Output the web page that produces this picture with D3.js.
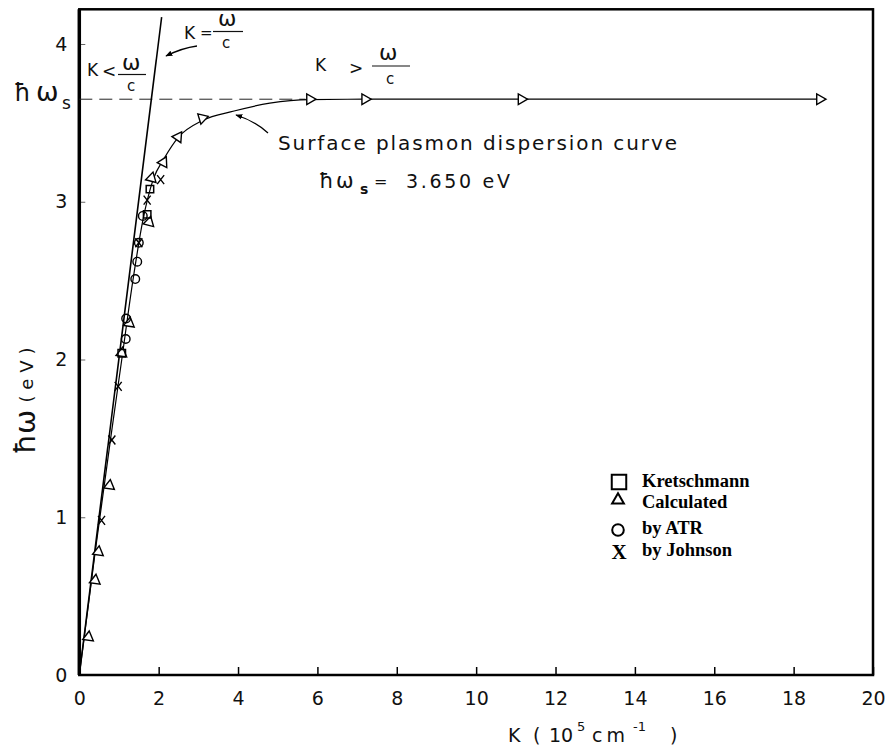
<!DOCTYPE html>
<html>
<head>
<meta charset="utf-8">
<script src="https://cdn.jsdelivr.net/npm/d3@7"></script>
<style>
  html, body { margin: 0; padding: 0; background: #fff; }
  svg { display: block; }
</style>
</head>
<body>
<div id="chart"></div>
<script>
// valeurs (K en 10^5 cm^-1, energie en eV)
const kTicks = [0, 2, 4, 6, 8, 10, 12, 14, 16, 18, 20];
const eTicks = [0, 1, 2, 3, 4];
const hws = 3.65;

// droite de lumiere K = w/c
const lightK = [0, 2.075];
const lightE = [0, 4.17];

// courbe de dispersion du plasmon de surface
const curveK = [0, 0.4, 0.79, 1.07, 1.35, 1.6, 1.86, 2.15, 2.5, 3.1, 3.9, 4.8, 5.8, 7.2, 11.14, 18.66];
const curveE = [0, 0.78, 1.5, 2.0, 2.5, 2.88, 3.14, 3.28, 3.41, 3.515, 3.575, 3.625, 3.648, 3.65, 3.65, 3.65];

// series de points
const calcK = [0.23, 0.40, 0.48, 0.76, 1.07, 1.26, 1.76, 1.82, 2.12, 2.49, 3.10, 5.81, 7.20, 11.14, 18.66];
const calcE = [0.24, 0.60, 0.78, 1.20, 2.04, 2.23, 2.87, 3.15, 3.25, 3.41, 3.53, 3.65, 3.65, 3.65, 3.65];
const kretK = [1.07, 1.71, 1.78];
const kretE = [2.04, 2.92, 3.08];
const atrK = [1.17, 1.18, 1.41, 1.46, 1.50, 1.60];
const atrE = [2.13, 2.26, 2.51, 2.62, 2.74, 2.91];
const johnK = [0.56, 0.82, 0.98, 1.50, 1.71, 2.05];
const johnE = [0.98, 1.49, 1.83, 2.74, 3.01, 3.14];

const legendLabels = ["Kretschmann", "Calculated", "by ATR", "by Johnson"];

const width = 885, height = 751;
const plotFont = "'DejaVu Sans', sans-serif";

const svg = d3.select("#chart").append("svg")
    .attr("width", width)
    .attr("height", height)
    .attr("viewBox", [0, 0, width, height]);

const x = d3.scaleLinear().domain([0, 20]).range([79.3, 873]);
const y = d3.scaleLinear().domain([0, 4]).range([675, 44]);
const yTop = 4.22;

// petites graduations vers l'interieur
const xAxis = svg.append("g")
    .attr("transform", `translate(0,${y(0)})`)
    .call(d3.axisBottom(x).tickValues(kTicks).tickSize(-8).tickPadding(17).tickFormat(d3.format("d")));
xAxis.select(".domain").remove();
xAxis.selectAll("line").attr("stroke-width", 1.5);
xAxis.selectAll("text")
    .attr("font-family", plotFont)
    .attr("font-size", 19)
    .attr("fill", "#111");

const yAxis = svg.append("g")
    .attr("transform", `translate(${x(0)},0)`)
    .call(d3.axisLeft(y).tickValues(eTicks).tickSize(-6).tickPadding(12).tickFormat(d3.format("d")));
yAxis.select(".domain").remove();
yAxis.selectAll("line").attr("stroke-width", 1).attr("stroke", "#666");
yAxis.selectAll("text")
    .attr("font-family", plotFont)
    .attr("font-size", 19)
    .attr("fill", "#111");

// cadre
svg.append("rect")
    .attr("x", x(0)).attr("y", y(yTop))
    .attr("width", x(20) - x(0)).attr("height", y(0) - y(yTop))
    .attr("fill", "none").attr("stroke", "#000").attr("stroke-width", 2.5);
svg.append("line")
    .attr("x1", x(0)).attr("x2", x(0))
    .attr("y1", y(yTop)).attr("y2", y(0))
    .attr("stroke", "#000").attr("stroke-width", 3.5);

// ligne en tirets a hbar ws
svg.append("line")
    .attr("x1", x(0)).attr("x2", x(5.7))
    .attr("y1", y(hws)).attr("y2", y(hws))
    .attr("stroke", "#222").attr("stroke-width", 1)
    .attr("stroke-dasharray", "13,7");

// droite K = w/c
svg.append("path")
    .datum(d3.zip(lightK, lightE))
    .attr("d", d3.line().x(d => x(d[0])).y(d => y(d[1])))
    .attr("fill", "none").attr("stroke", "#000").attr("stroke-width", 1.6);

// courbe de dispersion
svg.append("path")
    .datum(d3.zip(curveK, curveE))
    .attr("d", d3.line().x(d => x(d[0])).y(d => y(d[1])).curve(d3.curveMonotoneX))
    .attr("fill", "none").attr("stroke", "#000").attr("stroke-width", 1.2);

// orientation des triangles selon la tangente de la courbe
function tangentAngle(k) {
    const n = curveK.length;
    let i = d3.bisectRight(curveK, k);
    i = Math.max(1, Math.min(n - 1, i));
    const dx = x(curveK[i]) - x(curveK[i - 1]);
    const dy = y(curveE[i]) - y(curveE[i - 1]);
    return Math.atan2(dx, -dy) * 180 / Math.PI;
}

const tri = d3.symbol().type(d3.symbolTriangle).size(50);
const sq = d3.symbol().type(d3.symbolSquare).size(56);

svg.append("g").selectAll("path")
    .data(d3.zip(calcK, calcE))
    .join("path")
    .attr("d", tri)
    .attr("transform", d => `translate(${x(d[0])},${y(d[1])}) rotate(${tangentAngle(d[0])})`)
    .attr("fill", "#fff").attr("stroke", "#000").attr("stroke-width", 1.4);

svg.append("g").selectAll("circle")
    .data(d3.zip(atrK, atrE))
    .join("circle")
    .attr("cx", d => x(d[0])).attr("cy", d => y(d[1])).attr("r", 4.3)
    .attr("fill", "none").attr("stroke", "#000").attr("stroke-width", 1.4);

svg.append("g").selectAll("path")
    .data(d3.zip(kretK, kretE))
    .join("path")
    .attr("d", sq)
    .attr("transform", d => `translate(${x(d[0])},${y(d[1])})`)
    .attr("fill", "none").attr("stroke", "#000").attr("stroke-width", 1.5);

svg.append("g").selectAll("path")
    .data(d3.zip(johnK, johnE))
    .join("path")
    .attr("d", d => {
        const cx = x(d[0]), cy = y(d[1]);
        return `M${cx - 3.5},${cy - 4.5}L${cx + 3.5},${cy + 4.5}M${cx + 3.5},${cy - 4.5}L${cx - 3.5},${cy + 4.5}`;
    })
    .attr("fill", "none").attr("stroke", "#000").attr("stroke-width", 1.4);

// fleches
svg.append("defs").append("marker")
    .attr("id", "arrow")
    .attr("viewBox", "0 -5 10 10")
    .attr("refX", 9).attr("refY", 0)
    .attr("markerWidth", 7).attr("markerHeight", 7)
    .attr("markerUnits", "userSpaceOnUse")
    .attr("orient", "auto")
    .append("path")
    .attr("d", "M0,-4L10,0L0,4Z")
    .attr("fill", "#000");

svg.append("path")
    .attr("d", "M197,46 Q182,48 166,56")
    .attr("fill", "none").attr("stroke", "#000").attr("stroke-width", 1.3)
    .attr("marker-end", "url(#arrow)");
svg.append("path")
    .attr("d", "M268,133 Q255,121 236,115")
    .attr("fill", "none").attr("stroke", "#000").attr("stroke-width", 1.3)
    .attr("marker-end", "url(#arrow)");

// annotations
function txt(xp, yp, s, size, extra) {
    const t = svg.append("text")
        .attr("x", xp).attr("y", yp)
        .attr("font-family", plotFont)
        .attr("font-size", size)
        .attr("fill", "#111")
        .text(s);
    if (extra) extra(t);
    return t;
}
function fracLine(x1, x2, yp) {
    svg.append("line").attr("x1", x1).attr("x2", x2).attr("y1", yp).attr("y2", yp)
        .attr("stroke", "#111").attr("stroke-width", 1.2);
}

// K < w/c
txt(87, 76, "K", 17);
txt(102, 77, "<", 17);
txt(122, 70, "ω", 22);
fracLine(118, 146, 74.5);
txt(127, 91, "c", 15);

// K = w/c
txt(184, 39, "K", 17);
txt(200, 38, "=", 15);
txt(218, 26, "ω", 22);
fracLine(213, 243, 31.5);
txt(222, 48, "c", 15);

// K > w/c
txt(315, 71, "K", 17);
txt(349, 74, ">", 17);
txt(379, 60, "ω", 22);
fracLine(372, 410, 66);
txt(386, 84, "c", 15);

txt(278, 150, "Surface plasmon dispersion curve", 20, t => t.attr("textLength", 399).attr("lengthAdjust", "spacing"));

// hbar ws = 3.650 eV
const hw = svg.append("text")
    .attr("font-family", plotFont).attr("font-size", 21).attr("fill", "#111");
hw.append("tspan").attr("x", 319).attr("y", 188).text("ħ");
hw.append("tspan").attr("x", 336).attr("y", 188).text("ω");
hw.append("tspan").attr("x", 360).attr("y", 194).attr("font-size", 14).attr("font-weight", "bold").text("s");
hw.append("tspan").attr("x", 374).attr("y", 187).attr("font-size", 16).text("=");
hw.append("tspan").attr("x", 406).attr("y", 188).attr("font-size", 19)
    .attr("textLength", 104).attr("lengthAdjust", "spacing").text("3.650 eV");

// hbar ws sur l'axe
const hl = svg.append("text")
    .attr("font-family", plotFont).attr("font-size", 24).attr("fill", "#111");
hl.append("tspan").attr("x", 14).attr("y", 101).text("ħ");
hl.append("tspan").attr("x", 36).attr("y", 101).attr("font-size", 27).text("ω");
hl.append("tspan").attr("x", 62).attr("y", 109).attr("font-size", 17).text("s");

// titre de l'axe x
const xt = svg.append("text")
    .attr("font-family", plotFont).attr("font-size", 19).attr("fill", "#111");
xt.append("tspan").attr("x", 508).attr("y", 742).text("K");
xt.append("tspan").attr("x", 533).attr("y", 742).text("(");
xt.append("tspan").attr("x", 549).attr("y", 742).text("10");
xt.append("tspan").attr("x", 577).attr("y", 731).attr("font-size", 13).text("5");
xt.append("tspan").attr("x", 592).attr("y", 742).attr("letter-spacing", 4).text("cm");
xt.append("tspan").attr("x", 633).attr("y", 731).attr("font-size", 13).text("-1");
xt.append("tspan").attr("x", 670).attr("y", 742).text(")");

// titre de l'axe y
svg.append("text")
    .attr("transform", "translate(35,432) rotate(-90)")
    .attr("text-anchor", "middle")
    .attr("font-family", plotFont).attr("font-size", 29).attr("fill", "#111")
    .text("ħω");
svg.append("text")
    .attr("transform", "translate(33,375) rotate(-90)")
    .attr("text-anchor", "middle")
    .attr("font-family", plotFont).attr("font-size", 18).attr("fill", "#111")
    .attr("textLength", 55).attr("lengthAdjust", "spacing")
    .text("(eV)");

// legende
const legY = [482, 500, 530, 551];
const lg = svg.append("g");
lg.append("path").attr("d", d3.symbol().type(d3.symbolSquare).size(210)())
    .attr("transform", `translate(619,${legY[0]})`)
    .attr("fill", "none").attr("stroke", "#000").attr("stroke-width", 2);
lg.append("path").attr("d", d3.symbol().type(d3.symbolTriangle).size(60)())
    .attr("transform", `translate(618,${legY[1]})`)
    .attr("fill", "none").attr("stroke", "#000").attr("stroke-width", 2);
lg.append("circle").attr("cx", 618).attr("cy", legY[2]).attr("r", 5.8)
    .attr("fill", "none").attr("stroke", "#000").attr("stroke-width", 2);
lg.append("text").attr("x", 619).attr("y", legY[3] + 8)
    .attr("text-anchor", "middle")
    .attr("font-family", "'Liberation Serif', serif").attr("font-weight", "bold").attr("font-size", 21)
    .text("X");
lg.selectAll("text.lab")
    .data(legendLabels)
    .join("text")
    .attr("class", "lab")
    .attr("x", 642)
    .attr("y", (d, i) => [487, 508, 534, 556][i])
    .attr("font-family", "'Liberation Serif', serif")
    .attr("font-weight", "bold")
    .attr("font-size", 18.5)
    .text(d => d);
</script>
</body>
</html>
